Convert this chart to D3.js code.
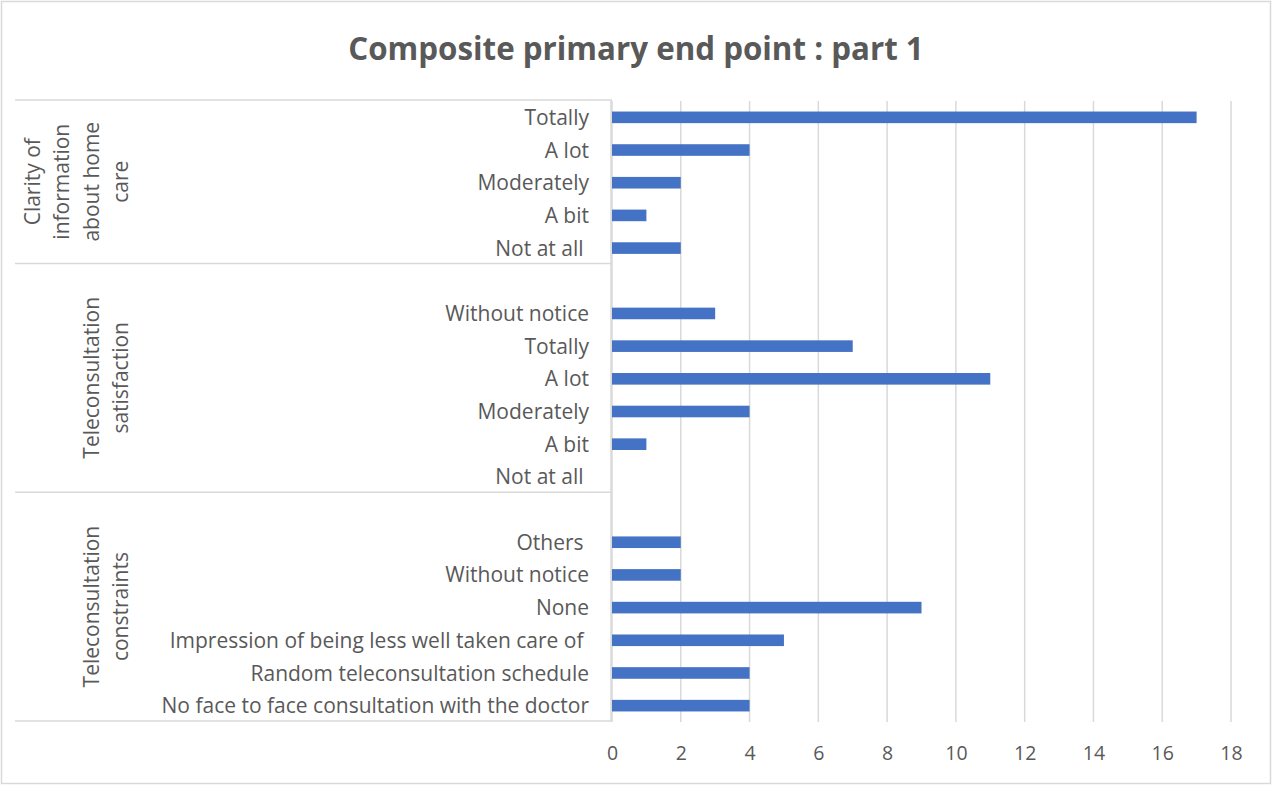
<!DOCTYPE html>
<html>
<head>
<meta charset="utf-8">
<script src="https://cdn.jsdelivr.net/npm/d3@7"></script>
<style>
  html, body { margin: 0; padding: 0; background: #fff; }
  svg { display: block; }
  text { font-family: "Open Sans", sans-serif; fill: #595959; }
</style>
</head>
<body>
<svg id="chart" width="1272" height="785"></svg>
<script>
// ---- data ----
const chartTitle = "Composite primary end point : part 1";
const groupNames = ["Clarity of information about home care", "Teleconsultation satisfaction", "Teleconsultation constraints"];
const groupLines = [["Clarity of", "information", "about home", "care"], ["Teleconsultation", "satisfaction"], ["Teleconsultation", "constraints"]];
const clarityLabels = ["Totally", "A lot", "Moderately", "A bit", "Not at all "];
const clarityValues = [17, 4, 2, 1, 2];
const satisfactionLabels = ["", "Without notice", "Totally", "A lot", "Moderately", "A bit", "Not at all "];
const satisfactionValues = [null, 3, 7, 11, 4, 1, 0];
const constraintLabels = ["", "Others ", "Without notice", "None", "Impression of being less well taken care of ", "Random teleconsultation schedule", "No face to face consultation with the doctor"];
const constraintValues = [null, 2, 2, 9, 5, 4, 4];
const tickValues = [0, 2, 4, 6, 8, 10, 12, 14, 16, 18];

// ---- build rows ----
const groupLabelSets = [clarityLabels, satisfactionLabels, constraintLabels];
const groupValueSets = [clarityValues, satisfactionValues, constraintValues];
const rows = [];
groupLabelSets.forEach((labels, g) => {
  labels.forEach((lab, i) => rows.push({ key: g + "-" + i, group: g, label: lab, value: groupValueSets[g][i] }));
});

const svg = d3.select("#chart");
const W = 1272, H = 785;
const plotLeft = 612, plotRight = 1231, plotTop = 100, plotBottom = 721;
const catLeft = 15;
const grid = "#d9d9d9";

// outer border
svg.append("rect").attr("x", 1.5).attr("y", 1.5).attr("width", W - 3).attr("height", H - 3)
  .attr("fill", "#fff").attr("stroke", grid).attr("stroke-width", 1.5);

// title
svg.append("text").attr("x", 636).attr("y", 60).attr("text-anchor", "middle")
  .style("font-size", "31.3px").style("font-weight", "bold").text(chartTitle);

const x = d3.scaleLinear().domain([0, 18]).range([plotLeft, plotRight]);
const y = d3.scaleBand().domain(rows.map(r => r.key)).range([plotTop, plotBottom]).paddingInner(0.645).paddingOuter(0.3225);

// gridlines
svg.append("g").selectAll("line").data(tickValues).join("line")
  .attr("x1", d => x(d)).attr("x2", d => x(d))
  .attr("y1", plotTop + 1).attr("y2", plotBottom + 1)
  .attr("stroke", grid).attr("stroke-width", 1.5);

// x tick labels
const xAxis = d3.axisBottom(x).tickValues(tickValues).tickSize(0).tickPadding(0).tickFormat(d3.format("d"));
const xg = svg.append("g").attr("transform", `translate(0, ${plotBottom + 39})`).call(xAxis);
xg.select(".domain").remove();
xg.selectAll("text").attr("dy", 0).style("font-size", "19.5px").style("fill", "#595959").style("font-family", "'Open Sans', sans-serif");

// category table lines
const groupBounds = [];
let start = 0;
groupLabelSets.forEach((labels, g) => {
  const top = plotTop + start * (plotBottom - plotTop) / rows.length;
  const bottom = plotTop + (start + labels.length) * (plotBottom - plotTop) / rows.length;
  groupBounds.push({ g, top, bottom });
  start += labels.length;
});
const lines = svg.append("g");
const hLines = [plotTop].concat(groupBounds.map(b => b.bottom));
lines.selectAll("line.h").data(hLines).join("line").attr("class", "h")
  .attr("x1", catLeft).attr("x2", plotLeft).attr("y1", d => d).attr("y2", d => d)
  .attr("stroke", grid).attr("stroke-width", 1.5);
lines.append("line").attr("x1", plotLeft - 1).attr("x2", plotLeft - 1).attr("y1", plotTop).attr("y2", plotBottom)
  .attr("stroke", grid).attr("stroke-width", 1.5);

// bars
svg.append("g").selectAll("rect").data(rows.filter(r => r.value)).join("rect")
  .attr("x", x(0)).attr("y", d => y(d.key) + 1)
  .attr("width", d => x(d.value) - x(0)).attr("height", y.bandwidth())
  .attr("fill", "#4472C4");

// category labels
svg.append("g").selectAll("text").data(rows.filter(r => r.label)).join("text")
  .attr("x", 589).attr("y", d => y(d.key) + y.bandwidth() / 2 + 1)
  .attr("dy", "0.36em").attr("text-anchor", "end")
  .attr("xml:space", "preserve").style("white-space", "pre")
  .style("font-size", "21px").text(d => d.label);

// group labels (rotated)
const lineGap = 29.5;
groupBounds.forEach(b => {
  const ls = groupLines[b.g];
  const cy = (b.top + b.bottom) / 2;
  ls.forEach((t, i) => {
    const cx = 128 - (ls.length - 1 - i) * lineGap;
    svg.append("text").attr("transform", `translate(${cx}, ${cy}) rotate(-90)`)
      .attr("text-anchor", "middle").style("font-size", "21px").text(t);
  });
});
</script>
</body>
</html>
